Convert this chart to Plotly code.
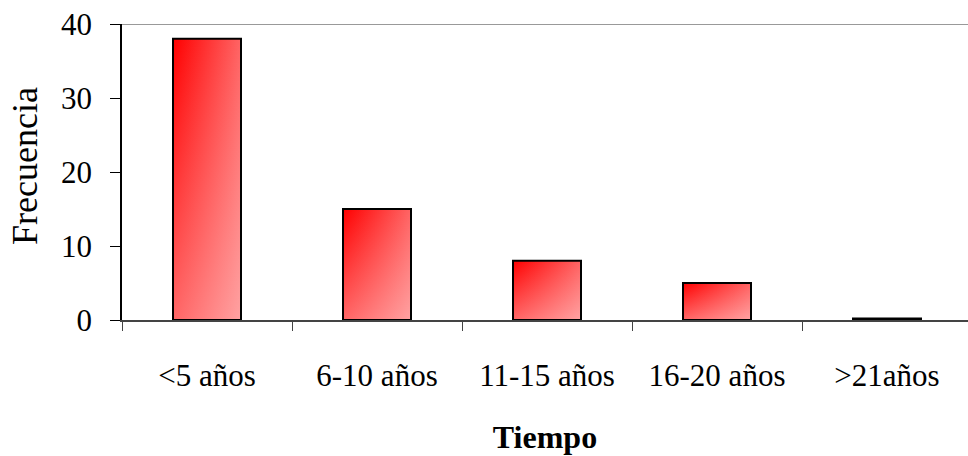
import plotly.graph_objects as go

categories = ["<5 años", "6-10 años", "11-15 años", "16-20 años", ">21años"]
values = [38, 15, 8, 5, 0.2]
y_ticks = [0, 10, 20, 30, 40]

FONT = "'Liberation Serif', 'Times New Roman', serif"
half = 0.2

fig = go.Figure()
for i, v in enumerate(values):
    xs = [i - half, i - half, i + half, i + half, i - half]
    ys = [0, v, v, 0, 0]
    fig.add_trace(go.Scatter(
        x=xs, y=ys, mode="lines", fill="toself",
        line=dict(width=0, color="rgba(0,0,0,0)"),
        fillgradient=dict(type="horizontal",
                          colorscale=[[0, "rgb(255,0,0)"], [1, "rgb(255,100,100)"]]),
        hoverinfo="skip", showlegend=False))
    fig.add_trace(go.Scatter(
        x=xs, y=ys, mode="lines", fill="toself",
        line=dict(width=2, color="black"),
        fillgradient=dict(type="vertical",
                          colorscale=[[0, "rgba(255,255,255,0.40)"], [1, "rgba(255,255,255,0)"]]),
        hovertemplate=f"{categories[i]}: {v}<extra></extra>", showlegend=False))

fig.update_layout(
    width=968, height=456,
    margin=dict(l=122, r=0, t=24, b=136),
    paper_bgcolor="white", plot_bgcolor="white",
    font=dict(family=FONT, size=30, color="black"),
    showlegend=False,
    xaxis=dict(
        range=[-0.5, 4.5 - 4 / 170],
        tickmode="array", tickvals=list(range(len(categories))), ticktext=categories,
        ticks="", showgrid=False, zeroline=False,
        showline=True, linecolor="#444", linewidth=1.5,
        ticklabelstandoff=27,
        tickfont=dict(family=FONT, size=31),
        minor=dict(tickmode="array", tickvals=[i - 0.5 for i in range(len(categories) + 1)],
                   ticks="outside", ticklen=9, tickwidth=1.2, tickcolor="#444", showgrid=False),
        title=dict(text="<b>Tiempo</b>", font=dict(family=FONT, size=32), standoff=34),
        fixedrange=True,
    ),
    yaxis=dict(
        range=[0, 40], tickmode="array", tickvals=y_ticks,
        ticks="outside", ticklen=10, tickwidth=1.2, tickcolor="black",
        showgrid=False, zeroline=False,
        showline=True, linecolor="black", linewidth=1.5,
        ticklabelstandoff=12,
        tickfont=dict(family=FONT, size=31),
        fixedrange=True,
    ),
    shapes=[dict(type="line", xref="paper", yref="y", x0=0, x1=1, y0=40, y1=40,
                 line=dict(color="#999", width=2), layer="below")],
    annotations=[dict(text="Frecuencia", textangle=-90, xref="paper", yref="paper",
                      x=(25 - 122) / 846, y=(320 - 247) / 296, xanchor="center", yanchor="bottom",
                      showarrow=False, font=dict(family=FONT, size=36))],
)

fig.write_html("out.html")
